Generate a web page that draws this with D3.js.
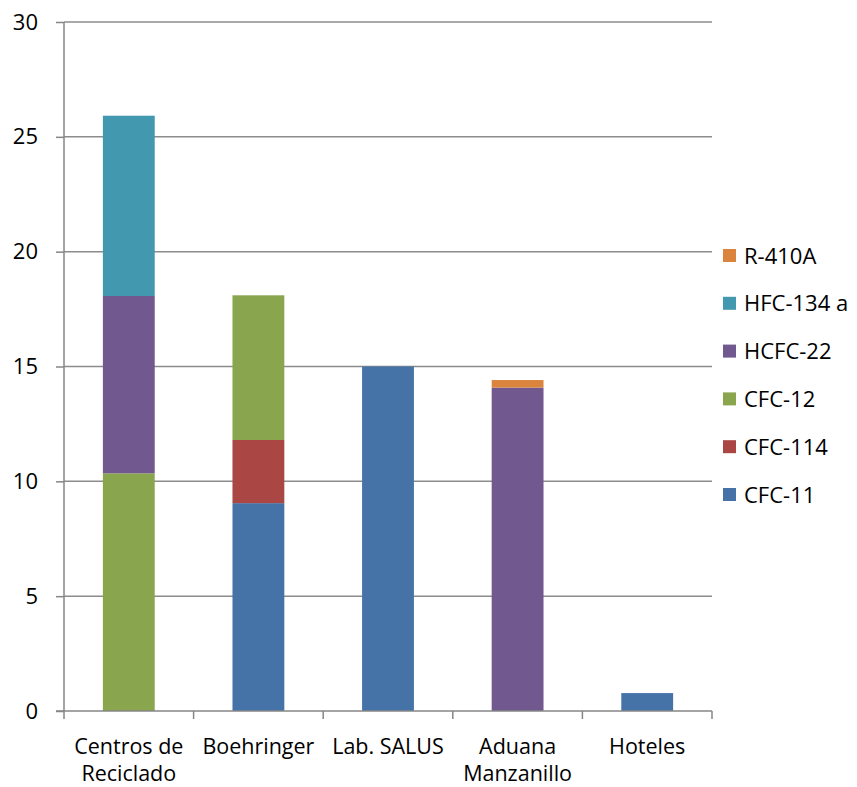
<!DOCTYPE html>
<html>
<head>
<meta charset="utf-8">
<script src="https://cdn.jsdelivr.net/npm/d3@7"></script>
<style>
  body { margin: 0; background: #fff; }
  text { font-family: "Open Sans", sans-serif; fill: #000; }
</style>
</head>
<body>
<div id="vis"></div>
<script>
const FRAME_WIDTH = 857;
const FRAME_HEIGHT = 787;
const MARGINS = {left: 64, right: 145, top: 22, bottom: 76};

// data
const categories = ["Centros de Reciclado", "Boehringer", "Lab. SALUS", "Aduana Manzanillo", "Hoteles"];
const catLines = [["Centros de", "Reciclado"], ["Boehringer"], ["Lab. SALUS"], ["Aduana", "Manzanillo"], ["Hoteles"]];
const series = ["CFC-11", "CFC-114", "CFC-12", "HCFC-22", "HFC-134 a", "R-410A"];
const CFC11 = [0, 9.05, 15.0, 0, 0.78];
const CFC114 = [0, 2.75, 0, 0, 0];
const CFC12 = [10.35, 6.3, 0, 0, 0];
const HCFC22 = [7.72, 0, 0, 14.08, 0];
const HFC134a = [7.85, 0, 0, 0, 0];
const R410A = [0, 0, 0, 0.33, 0];
const yTicks = [0, 5, 10, 15, 20, 25, 30];
const COLORS = ["#4573a7", "#aa4643", "#89a54e", "#71588f", "#4198af", "#db843d"];

const values = [CFC11, CFC114, CFC12, HCFC22, HFC134a, R410A];
const rows = categories.map((c, i) => {
  const r = {cat: c};
  series.forEach((s, j) => { r[s] = values[j][i]; });
  return r;
});

const VIS_WIDTH = FRAME_WIDTH - MARGINS.left - MARGINS.right;
const VIS_HEIGHT = FRAME_HEIGHT - MARGINS.top - MARGINS.bottom;

const FRAME1 = d3.select("#vis")
  .append("svg")
    .attr("width", FRAME_WIDTH)
    .attr("height", FRAME_HEIGHT);

const X_SCALE = d3.scaleBand()
  .domain(categories)
  .range([MARGINS.left, MARGINS.left + VIS_WIDTH])
  .paddingInner(0.6)
  .paddingOuter(0.3);

const Y_SCALE = d3.scaleLinear()
  .domain([0, 30])
  .range([MARGINS.top + VIS_HEIGHT, MARGINS.top]);

const COLOR = d3.scaleOrdinal().domain(series).range(COLORS);

// gridlines
FRAME1.append("g")
  .selectAll("line")
  .data(yTicks.slice(1))
  .enter()
  .append("line")
    .attr("x1", MARGINS.left)
    .attr("x2", MARGINS.left + VIS_WIDTH)
    .attr("y1", d => Y_SCALE(d))
    .attr("y2", d => Y_SCALE(d))
    .attr("stroke", "#8c8c8c")
    .attr("stroke-width", 1.5);

// stacked bars
const stacked = d3.stack().keys(series)(rows);

FRAME1.append("g")
  .selectAll("g")
  .data(stacked)
  .enter()
  .append("g")
    .attr("fill", d => COLOR(d.key))
  .selectAll("rect")
  .data(d => d)
  .enter()
  .append("rect")
    .attr("x", d => X_SCALE(d.data.cat))
    .attr("y", d => Y_SCALE(d[1]))
    .attr("width", X_SCALE.bandwidth())
    .attr("height", d => Y_SCALE(d[0]) - Y_SCALE(d[1]));

// y axis
const yAxis = FRAME1.append("g")
  .attr("transform", "translate(" + MARGINS.left + ",0)")
  .call(d3.axisLeft(Y_SCALE).tickValues(yTicks).tickSize(8).tickPadding(18));
yAxis.selectAll("line, path").attr("stroke", "#868686").attr("stroke-width", 1.5);
yAxis.select(".domain").attr("d", "M0," + Y_SCALE(30) + "V" + Y_SCALE(0));
yAxis.selectAll("text").attr("font-size", 22).attr("font-family", "'Open Sans', sans-serif");

// x axis with ticks at category boundaries
const xg = FRAME1.append("g");
xg.append("line")
  .attr("x1", MARGINS.left - 8)
  .attr("x2", MARGINS.left + VIS_WIDTH)
  .attr("y1", Y_SCALE(0))
  .attr("y2", Y_SCALE(0))
  .attr("stroke", "#868686")
  .attr("stroke-width", 1.5);
const bounds = d3.range(categories.length + 1).map(i => MARGINS.left + i * VIS_WIDTH / categories.length);
xg.selectAll(".xt")
  .data(bounds)
  .enter()
  .append("line")
    .attr("x1", d => d)
    .attr("x2", d => d)
    .attr("y1", Y_SCALE(0))
    .attr("y2", Y_SCALE(0) + 8)
    .attr("stroke", "#868686")
    .attr("stroke-width", 1.5);

xg.selectAll(".xl")
  .data(categories)
  .enter()
  .append("text")
    .attr("x", d => X_SCALE(d) + X_SCALE.bandwidth() / 2)
    .attr("y", Y_SCALE(0) + 43)
    .attr("text-anchor", "middle")
    .attr("font-size", 21.5)
  .selectAll("tspan")
  .data((d, i) => catLines[i])
  .enter()
  .append("tspan")
    .attr("x", function() { return this.parentNode.getAttribute("x"); })
    .attr("dy", (d, i) => i === 0 ? 0 : 27)
    .text(d => d);

// legend, top item is last series
const legend = FRAME1.append("g")
  .selectAll("g")
  .data(series.slice().reverse())
  .enter()
  .append("g")
    .attr("transform", (d, i) => "translate(723," + (256 + i * 47.8) + ")");
legend.append("rect")
  .attr("x", 0)
  .attr("y", -7)
  .attr("width", 13)
  .attr("height", 13)
  .attr("fill", d => COLOR(d));
legend.append("text")
  .attr("x", 21)
  .attr("y", 7.5)
  .attr("font-size", 22)
  .text(d => d);
</script>
</body>
</html>
